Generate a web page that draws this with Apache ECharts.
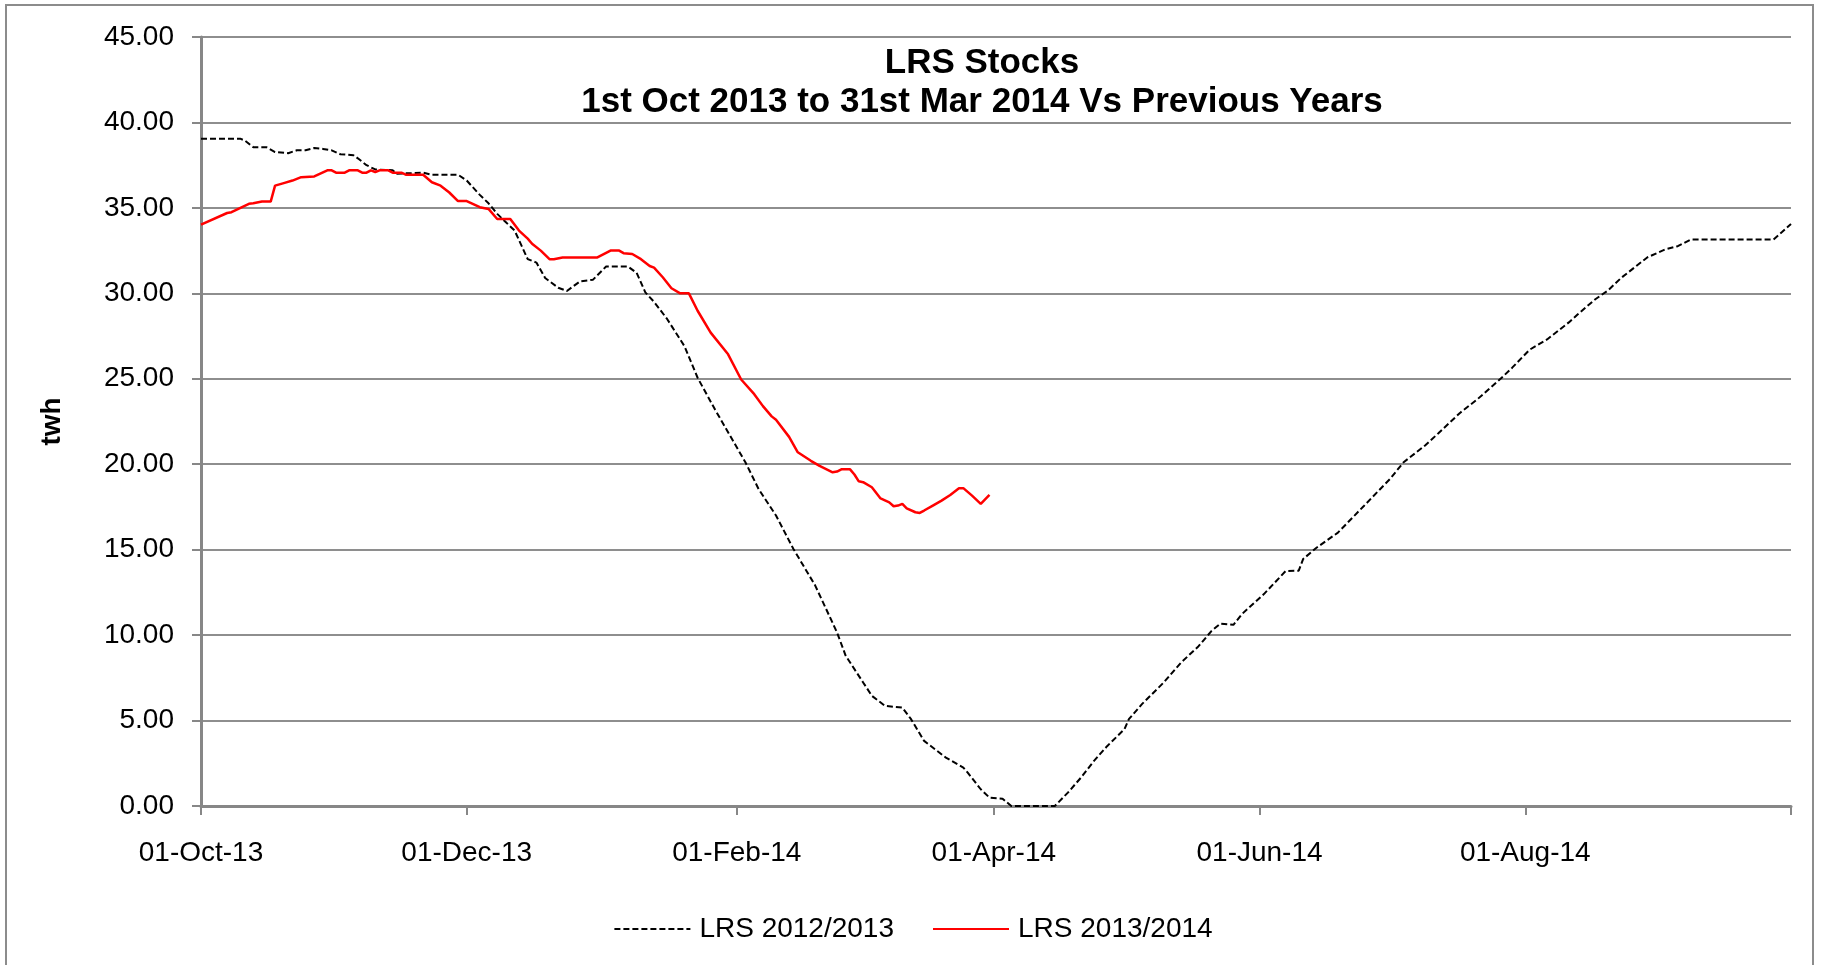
<!DOCTYPE html>
<html>
<head>
<meta charset="utf-8">
<script src="https://cdn.jsdelivr.net/npm/echarts@6/dist/echarts.min.js"></script>
<style>
html,body{margin:0;padding:0;background:#fff;}
#chart{width:1826px;height:965px;}
</style>
</head>
<body>
<div id="chart"></div>
<script>
// ---- Data ----
const titleLines = ['LRS Stocks', '1st Oct 2013 to 31st Mar 2014 Vs Previous Years'];
const yAxisName = 'twh';
const seriesNames = ['LRS 2012/2013', 'LRS 2013/2014'];

const xTickDates = ['2013-10-01','2013-12-01','2014-02-01','2014-04-01','2014-06-01','2014-08-01','2014-10-01'];
const xTickLabels = ['01-Oct-13','01-Dec-13','01-Feb-14','01-Apr-14','01-Jun-14','01-Aug-14',''];
const yTickValues = [0,5,10,15,20,25,30,35,40,45];

// LRS 2012/2013 (plotted on the 2013/14 calendar)
const lrs1213 = [
['2013-10-01',39.05],['2013-10-10',39.05],['2013-10-11',38.95],['2013-10-13',38.55],['2013-10-16',38.55],
['2013-10-18',38.27],['2013-10-21',38.2],['2013-10-23',38.37],['2013-10-25',38.37],['2013-10-27',38.5],
['2013-10-29',38.45],['2013-10-31',38.37],['2013-11-02',38.14],['2013-11-05',38.08],['2013-11-06',37.9],
['2013-11-08',37.5],['2013-11-10',37.25],['2013-11-14',37.2],['2013-11-15',37.0],['2013-11-21',37.06],
['2013-11-23',36.94],['2013-11-29',36.94],['2013-12-01',36.6],['2013-12-04',35.76],['2013-12-06',35.27],
['2013-12-08',34.65],['2013-12-10',34.16],['2013-12-12',33.67],['2013-12-15',32.0],['2013-12-17',31.8],
['2013-12-19',30.9],['2013-12-22',30.33],['2013-12-24',30.14],['2013-12-27',30.7],['2013-12-30',30.8],
['2013-12-31',31.06],['2014-01-02',31.57],['2014-01-07',31.57],['2014-01-09',31.2],['2014-01-11',30.06],
['2014-01-13',29.5],['2014-01-16',28.5],['2014-01-20',26.9],['2014-01-23',25.06],['2014-01-27',23.2],
['2014-02-03',20.1],['2014-02-06',18.55],['2014-02-10',17.0],['2014-02-14',15.04],['2014-02-19',12.9],
['2014-02-24',10.16],['2014-02-26',8.79],['2014-03-02',7.23],['2014-03-04',6.45],['2014-03-07',5.86],
['2014-03-11',5.76],['2014-03-13',5.08],['2014-03-16',3.81],['2014-03-21',2.83],['2014-03-25',2.25],
['2014-03-26',1.95],['2014-03-29',0.98],['2014-03-31',0.49],['2014-04-03',0.43],['2014-04-05',0.0],
['2014-04-15',0.0],['2014-04-18',0.78],['2014-04-21',1.66],['2014-04-24',2.64],['2014-04-27',3.5],
['2014-05-01',4.5],['2014-05-02',5.08],['2014-05-05',5.96],['2014-05-10',7.23],['2014-05-14',8.4],
['2014-05-18',9.35],['2014-05-21',10.25],['2014-05-23',10.67],['2014-05-26',10.6],['2014-05-28',11.24],
['2014-06-02',12.4],['2014-06-07',13.75],['2014-06-10',13.77],['2014-06-11',14.45],['2014-06-14',15.1],
['2014-06-19',16.0],['2014-06-25',17.57],['2014-06-27',18.1],['2014-07-01',19.15],['2014-07-04',20.1],
['2014-07-09',21.1],['2014-07-12',21.8],['2014-07-17',23.0],['2014-07-21',23.8],['2014-07-27',25.16],
['2014-07-29',25.65],['2014-08-02',26.7],['2014-08-06',27.3],['2014-08-11',28.3],['2014-08-13',28.76],
['2014-08-17',29.64],['2014-08-20',30.17],['2014-08-23',30.9],['2014-08-26',31.5],['2014-08-29',32.1],
['2014-09-02',32.56],['2014-09-05',32.76],['2014-09-08',33.15],['2014-09-27',33.15],['2014-09-29',33.6],
['2014-10-01',34.06]
];

// LRS 2013/2014
const lrs1314 = [
['2013-10-01',34.02],['2013-10-07',34.7],['2013-10-08',34.75],['2013-10-12',35.24],['2013-10-13',35.27],
['2013-10-15',35.37],['2013-10-17',35.37],['2013-10-18',36.3],['2013-10-20',36.45],['2013-10-22',36.6],
['2013-10-24',36.8],['2013-10-27',36.84],['2013-10-30',37.2],['2013-10-31',37.2],['2013-11-01',37.06],
['2013-11-03',37.06],['2013-11-04',37.2],['2013-11-06',37.2],['2013-11-07',37.06],['2013-11-08',37.06],
['2013-11-09',37.2],['2013-11-10',37.1],['2013-11-11',37.2],['2013-11-13',37.2],['2013-11-14',37.06],
['2013-11-16',37.06],['2013-11-17',36.94],['2013-11-21',36.94],['2013-11-23',36.5],['2013-11-25',36.3],
['2013-11-27',35.9],['2013-11-29',35.4],['2013-12-01',35.4],['2013-12-04',35.04],['2013-12-06',34.94],
['2013-12-08',34.35],['2013-12-11',34.35],['2013-12-13',33.67],['2013-12-15',33.2],['2013-12-16',32.9],
['2013-12-18',32.5],['2013-12-20',32.0],['2013-12-21',32.0],['2013-12-23',32.1],['2013-12-31',32.1],
['2014-01-03',32.5],['2014-01-05',32.5],['2014-01-06',32.35],['2014-01-08',32.3],['2014-01-10',32.0],
['2014-01-12',31.6],['2014-01-13',31.5],['2014-01-15',30.94],['2014-01-17',30.3],['2014-01-19',30.0],
['2014-01-21',30.0],['2014-01-23',28.98],['2014-01-26',27.7],['2014-01-30',26.43],['2014-02-02',24.96],
['2014-02-05',24.1],['2014-02-07',23.4],['2014-02-09',22.8],['2014-02-10',22.6],['2014-02-13',21.6],
['2014-02-15',20.7],['2014-02-18',20.2],['2014-02-20',19.9],['2014-02-23',19.53],['2014-02-24',19.57],
['2014-02-25',19.7],['2014-02-27',19.7],['2014-02-28',19.4],['2014-03-01',19.0],['2014-03-02',18.95],
['2014-03-04',18.65],['2014-03-06',18.0],['2014-03-08',17.77],['2014-03-09',17.54],['2014-03-10',17.58],
['2014-03-11',17.68],['2014-03-12',17.42],['2014-03-14',17.19],['2014-03-15',17.15],['2014-03-16',17.29],
['2014-03-18',17.58],['2014-03-20',17.87],['2014-03-22',18.2],['2014-03-24',18.6],['2014-03-25',18.6],
['2014-03-27',18.16],['2014-03-29',17.68],['2014-03-31',18.2]
];

// ---- Helpers ----
function ts(s){ const p = s.split('-').map(Number); return Date.UTC(p[0], p[1]-1, p[2]); }
const tickTs = xTickDates.map(ts);
const labelMap = {};
tickTs.forEach((t,i)=>{ labelMap[t] = xTickLabels[i]; });
const toPoints = arr => arr.map(d => [ts(d[0]), d[1]]);

const FONT = '"Liberation Sans", Arial, Helvetica, sans-serif';
const chart = echarts.init(document.getElementById('chart'), null, {renderer:'canvas'});

chart.setOption({
  animation: false,
  backgroundColor: '#ffffff',
  textStyle: { fontFamily: FONT },
  grid: { left: 201, right: 35, top: 37, bottom: 159, containLabel: false },
  graphic: [
    { type:'rect', z:-1, shape:{ x:6, y:5, width:1807, height:1000 },
      style:{ fill:'none', stroke:'#8c8c8c', lineWidth:2 } },
    { type:'text', x:982, y:63, style:{ text:titleLines[0], font:'bold 35px ' + FONT,
      fill:'#000', textAlign:'center', textVerticalAlign:'middle' } },
    { type:'text', x:982, y:102, style:{ text:titleLines[1], font:'bold 35px ' + FONT,
      fill:'#000', textAlign:'center', textVerticalAlign:'middle' } }
  ],
  legend: {
    left: 'center', top: 910,
    itemWidth: 76, itemHeight: 30, itemGap: 38,
    itemStyle: { opacity: 0 },
    textStyle: { fontSize: 28, color: '#000', fontFamily: FONT, padding:[0,0,0,4] },
    data: seriesNames
  },
  xAxis: {
    type: 'value',
    min: tickTs[0], max: tickTs[tickTs.length-1],
    axisLine: { show: true, onZero: false, lineStyle: { color: '#878787', width: 3 } },
    axisTick: { show: true, length: 9, customValues: tickTs, lineStyle: { color: '#878787', width: 2 } },
    axisLabel: { customValues: tickTs.slice(0, tickTs.length-1), margin: 33, fontSize: 28, color: '#000',
      fontFamily: FONT, formatter: v => labelMap[v] || '' },
    splitLine: { show: false }
  },
  yAxis: {
    type: 'value', min: yTickValues[0], max: yTickValues[yTickValues.length-1], interval: 5,
    name: yAxisName, nameLocation: 'middle', nameGap: 135, nameRotate: 90,
    nameTextStyle: { fontSize: 28, fontWeight: 'bold', color: '#000', fontFamily: FONT },
    axisLine: { show: true, lineStyle: { color: '#878787', width: 3 } },
    axisTick: { show: true, length: 9, lineStyle: { color: '#878787', width: 2 } },
    axisLabel: { margin: 27, fontSize: 28, color: '#000', fontFamily: FONT, formatter: v => v.toFixed(2) },
    splitLine: { show: true, lineStyle: { color: '#8e8e8e', width: 2 } }
  },
  series: [
    { name: seriesNames[0], type: 'line', data: toPoints(lrs1213), showSymbol: false, symbol: 'none',
      lineStyle: { color: '#000', width: 2, type: [6,3] }, itemStyle: { color: '#000' }, z: 3 },
    { name: seriesNames[1], type: 'line', data: toPoints(lrs1314), showSymbol: false, symbol: 'none',
      lineStyle: { color: '#ff0000', width: 2.5 }, itemStyle: { color: '#ff0000' }, z: 4 }
  ]
});
</script>
</body>
</html>
